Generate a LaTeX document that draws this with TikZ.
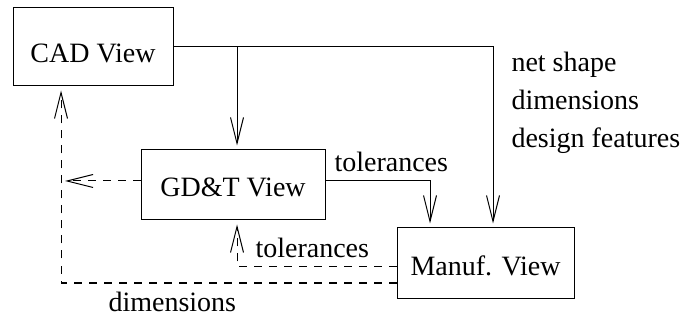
\documentclass[tikz,border=0pt]{standalone}
\usepackage{fontspec}
\setmainfont{Liberation Serif}
\usepackage{tikz}
\usetikzlibrary{arrows.meta}

\tikzset{
	view/.style={draw, rectangle, inner sep=0pt, font=\fontsize{14}{19}\selectfont},
	flow/.style={-{Straight Barb[length=13pt,width=6.5pt]}, shorten >= 2pt},
	back/.style={flow, dash pattern=on 4pt off 3.5pt},
	lbl/.style={inner sep=0pt, anchor=base west, font=\fontsize{14}{19}\selectfont}
}

\begin{document}
\begin{tikzpicture}[x=0.5pt, y=-0.5pt, line width=0.5pt]
			\useasboundingbox (0,0) rectangle (685,320);
			
			\node[view, minimum width=80pt, text height=27.5pt, text depth=11.5pt] (cad) at (93,47) {CAD View};
			\node[view, minimum width=92pt, text height=23.5pt, text depth=11.5pt] (gdt) at (233,185) {GD\&T View};
			\node[view, minimum width=88.5pt, text height=24pt, text depth=11pt] (manuf) at (485.5,263) {Manuf. View};
			
			\coordinate (fork) at (237,47);
			\coordinate (dimcorner) at (61,283);
			
			\draw[flow] (cad.east) -| ([xshift=3.75pt]manuf.north);
			\draw[flow] (fork) -- (fork |- gdt.north);
			\draw[flow] ([yshift=2pt]gdt.east) -| ([xshift=-27.75pt]manuf.north);
			
			\draw[back] ([yshift=2pt]gdt.west) -- ([yshift=2pt]gdt.west -| dimcorner);
			\draw[back] ([yshift=-2pt]manuf.west) -| (fork |- gdt.south);
			\draw[back] ([yshift=-10pt]manuf.west) -- (dimcorner) -- (cad.south -| dimcorner);
			
			\node[lbl] (tolout) at (334,172) {tolerances};
			\node[lbl] (tolback) at (255,257) {tolerances};
			\node[lbl] (dimback) at (108,311) {dimensions};
			\node[lbl, align=left] (cadout) at (511,148) {net shape\\dimensions\\design features};
\end{tikzpicture}
\end{document}
